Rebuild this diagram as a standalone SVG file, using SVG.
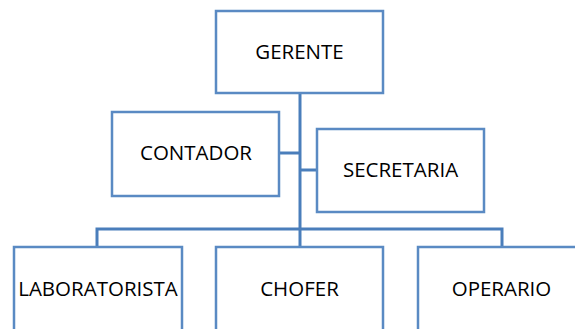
<svg xmlns="http://www.w3.org/2000/svg" width="575" height="329" viewBox="0 0 575 329">
<style>
.box{fill:#ffffff;stroke:#5a8ac3;stroke-width:2.5}
.lbl{font-family:"Open Sans","Liberation Sans",sans-serif;font-size:20.5px;fill:#000000;text-anchor:middle}
.con{fill:none;stroke:#4a7ebb;stroke-width:3}
</style>
<rect width="575" height="329" fill="#ffffff"/>
<g id="connectors">
<path class="con" d="M300,93 V229"/>
<path class="con" d="M280,153 H300"/>
<path class="con" d="M300,170 H317"/>
<path class="con" d="M97,247 V229 H502 V247"/>
<path class="con" d="M300,229 V247"/>
</g>
<g id="gerente"><rect class="box" x="216" y="11" width="167" height="82"/><text class="lbl" x="299.5" y="59">GERENTE</text></g>
<g id="contador"><rect class="box" x="112" y="112" width="167" height="84"/><text class="lbl" x="196" y="160">CONTADOR</text></g>
<g id="secretaria"><rect class="box" x="317" y="129" width="167" height="83"/><text class="lbl" x="400.5" y="177">SECRETARIA</text></g>
<g id="laboratorista"><rect class="box" x="14" y="247" width="168" height="95"/><text class="lbl" x="98" y="296">LABORATORISTA</text></g>
<g id="chofer"><rect class="box" x="216" y="247" width="167" height="95"/><text class="lbl" x="299.5" y="296">CHOFER</text></g>
<g id="operario"><rect class="box" x="418" y="247" width="167" height="95"/><text class="lbl" x="501.5" y="296">OPERARIO</text></g>
</svg>
